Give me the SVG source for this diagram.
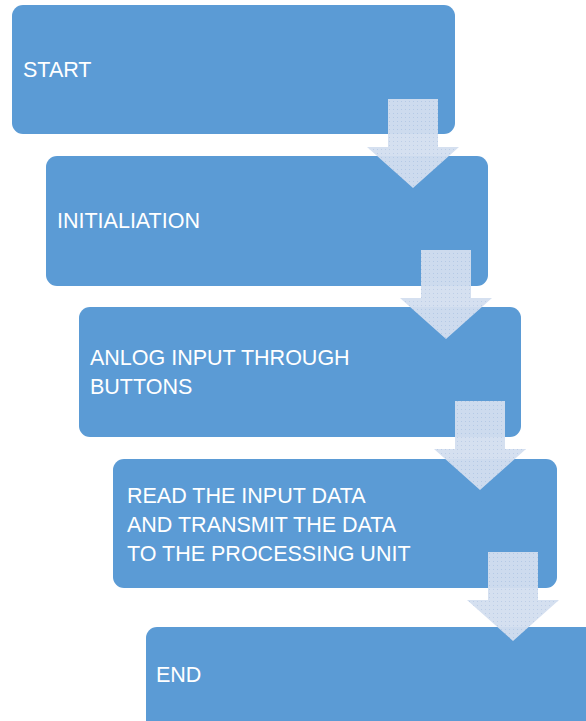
<svg xmlns="http://www.w3.org/2000/svg" width="586" height="721" viewBox="0 0 586 721">
<defs>
<pattern id="dots" width="4" height="4" patternUnits="userSpaceOnUse">
<rect width="4" height="4" fill="#d3deef"/>
<rect x="1" y="1" width="1" height="1" fill="#b9cbe6"/>
</pattern>
</defs>
<style>
.box{fill:#5b9bd5}
.lbl{font-family:"Liberation Sans",Arial,sans-serif;font-size:21.5px;fill:#ffffff}
.arr{fill:url(#dots);fill-opacity:0.95}
</style>
<rect width="586" height="721" fill="#ffffff"/>
<g id="node-start"><rect class="box" x="12" y="5" width="443" height="129" rx="11"/><text class="lbl" x="23" y="77">START</text></g>
<g id="node-init"><rect class="box" x="46" y="156" width="442" height="130" rx="11"/><text class="lbl" x="57" y="228">INITIALIATION</text></g>
<g id="node-input"><rect class="box" x="79" y="307" width="442" height="130" rx="11"/><text class="lbl" x="90" y="365">ANLOG INPUT THROUGH</text><text class="lbl" x="90" y="394">BUTTONS</text></g>
<g id="node-read"><rect class="box" x="113" y="459" width="444" height="129" rx="11"/><text class="lbl" x="127" y="503">READ THE INPUT DATA</text><text class="lbl" x="127" y="532">AND TRANSMIT THE DATA</text><text class="lbl" x="127" y="561">TO THE PROCESSING UNIT</text></g>
<g id="node-end"><rect class="box" x="146" y="627" width="452" height="110" rx="11"/><text class="lbl" x="156" y="682">END</text></g>
<g id="connectors">
<polygon class="arr" points="388,99 438,99 438,147 459,147 413,188 367,147 388,147"/>
<polygon class="arr" points="421,250 471,250 471,298 492,298 446,339 400,298 421,298"/>
<polygon class="arr" points="455,401 505,401 505,449 526,449 480,490 434,449 455,449"/>
<polygon class="arr" points="488,552 538,552 538,600 559,600 513,641 467,600 488,600"/>
</g>
</svg>
